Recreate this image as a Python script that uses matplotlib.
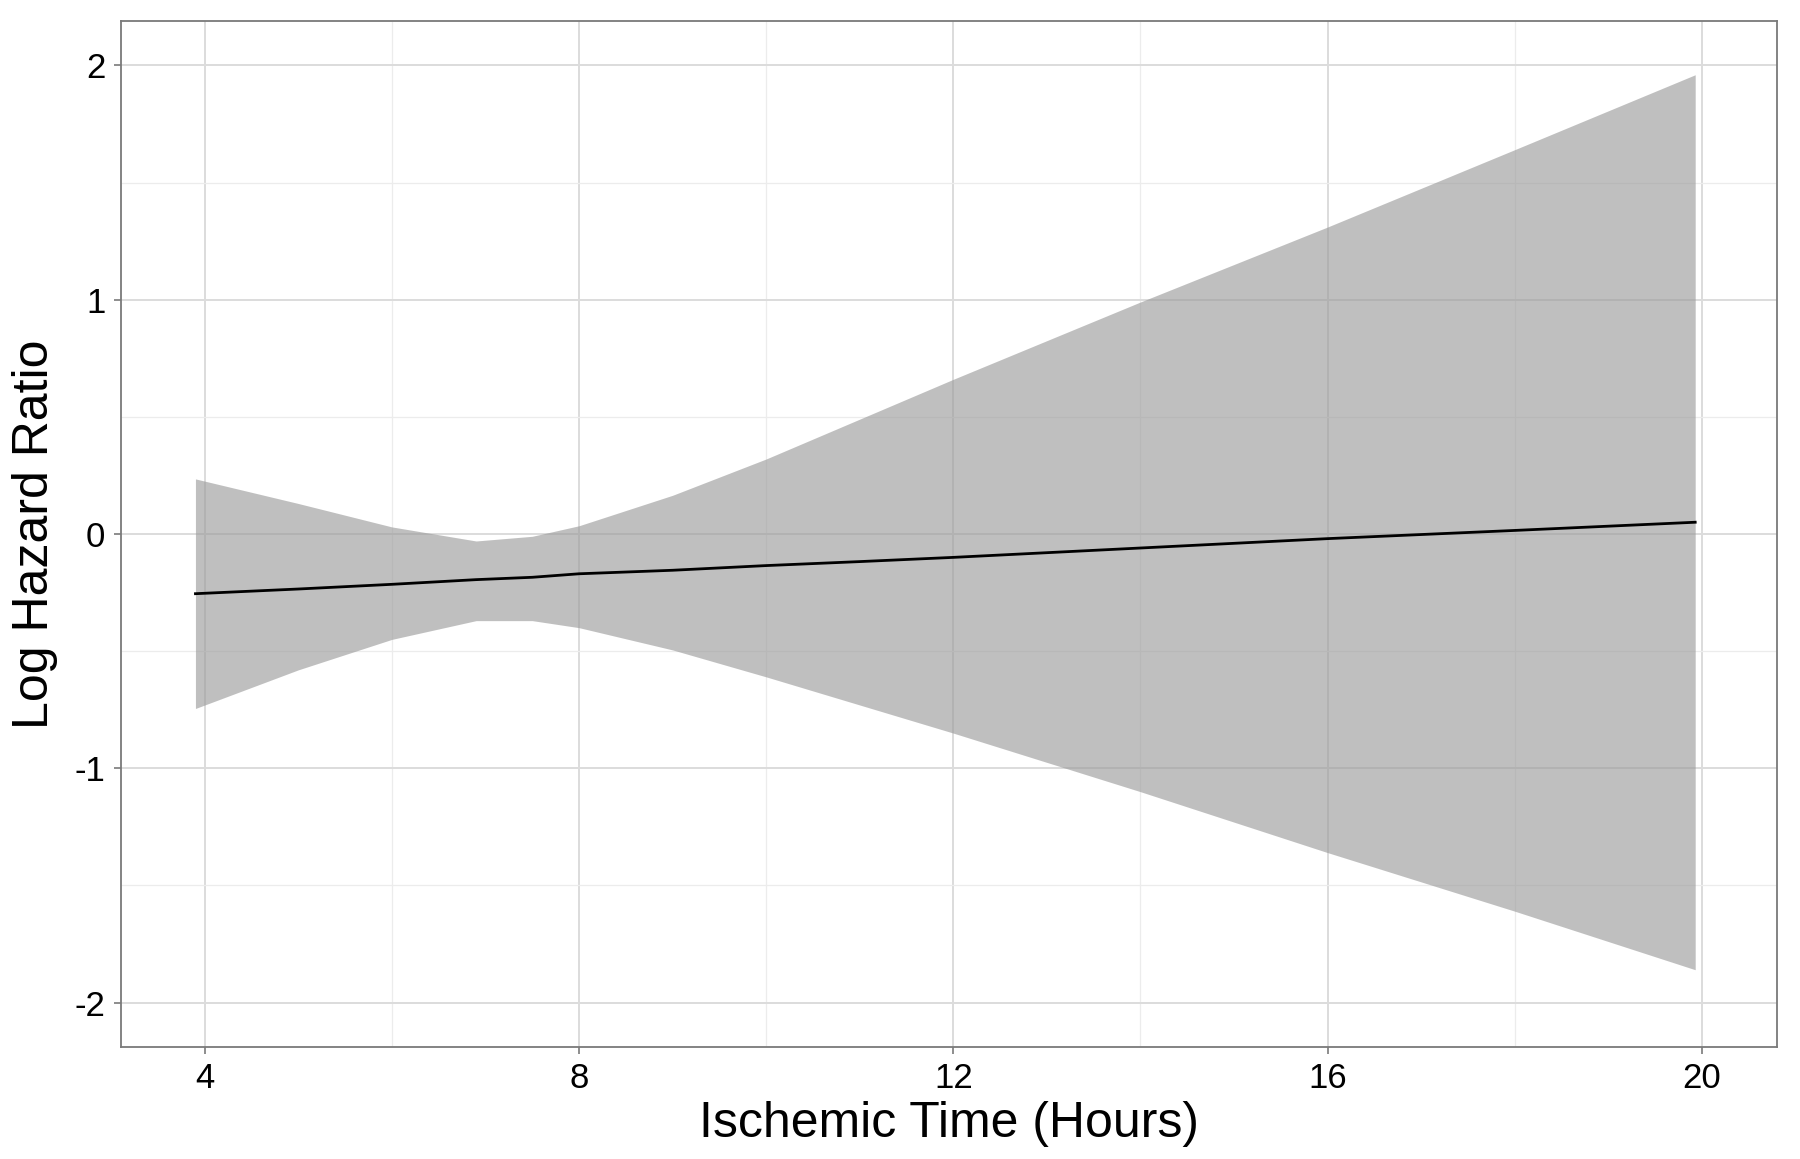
import numpy as np
import matplotlib.pyplot as plt

plt.rcParams['font.family'] = ['Liberation Sans', 'DejaVu Sans']
plt.rcParams['axes.unicode_minus'] = False

# estimated fit and 95% band
hours = [3.9, 5, 6, 6.9, 7.5, 8, 9, 10, 11, 12, 14, 16, 18, 19.93]
upper = [0.235, 0.13, 0.03, -0.03, -0.01, 0.035, 0.165, 0.32, 0.49, 0.66, 0.99, 1.31, 1.64, 1.96]
lower = [-0.745, -0.58, -0.45, -0.37, -0.37, -0.40, -0.495, -0.61, -0.73, -0.85, -1.10, -1.36, -1.61, -1.86]
fit = [-0.255, -0.235, -0.215, -0.195, -0.185, -0.17, -0.155, -0.135, -0.118, -0.10, -0.06, -0.02, 0.015, 0.05]

xticks = [4, 8, 12, 16, 20]
yticks = [-2, -1, 0, 1, 2]

fig = plt.figure(figsize=(18, 11.59), dpi=100)
ax = fig.add_axes([0.067, 0.0966, 0.92, 0.8854])

ax.fill_between(hours, lower, upper, color='#999999', alpha=0.62, linewidth=0, zorder=2)
ax.plot(hours, fit, color='black', lw=2.0, zorder=3)

ax.set_xlim(3.1, 20.8)
ax.set_ylim(-2.19, 2.19)
ax.set_xticks(xticks)
ax.set_yticks(yticks)
ax.set_xticks([6, 10, 14, 18], minor=True)
ax.set_yticks([-1.5, -0.5, 0.5, 1.5], minor=True)
ax.grid(True, which='major', color='#dcdcdc', lw=1.4, zorder=0)
ax.grid(True, which='minor', color='#ececec', lw=0.9, zorder=0)
ax.set_axisbelow(True)

for s in ax.spines.values():
    s.set_color('#7a7a7a')
    s.set_linewidth(1.3)

ax.tick_params(which='major', length=5, width=1.2, color='#7a7a7a', labelsize=25, labelcolor='black', pad=6)
ax.tick_params(which='minor', length=0)

ax.set_xlabel('Ischemic Time (Hours)', fontsize=36, labelpad=4)
ax.set_ylabel('Log Hazard Ratio', fontsize=36, labelpad=12)

plt.savefig('out.png', dpi=100)
